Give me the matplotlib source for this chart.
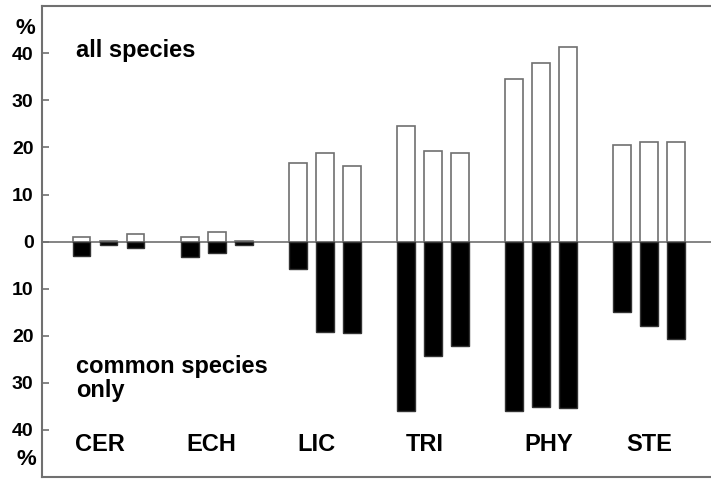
import matplotlib
matplotlib.use("Agg")
import matplotlib.pyplot as plt
import numpy as np

# data (% values, three bars per group)
groups = ["CER", "ECH", "LIC", "TRI", "PHY", "STE"]
all_species = [[1.0, 0.2, 1.7],
               [1.0, 2.1, 0.2],
               [16.7, 18.8, 16.1],
               [24.5, 19.3, 18.9],
               [34.6, 38.0, 41.3],
               [20.6, 21.1, 21.1]]
common_only = [[3.1, 0.8, 1.3],
               [3.2, 2.5, 0.8],
               [5.9, 19.2, 19.5],
               [35.9, 24.3, 22.1],
               [35.9, 35.1, 35.3],
               [14.9, 17.9, 20.7]]
yticks = [-40, -30, -20, -10, 0, 10, 20, 30, 40]

font = {'family': 'Liberation Sans', 'weight': 'bold'}
grey = '#707070'

fig = plt.figure(figsize=(7.11, 4.79), dpi=100)
ax = fig.add_axes([0.059, 0.004, 0.945, 0.983])

pos = []
for i in range(len(groups)):
    for j in range(3):
        pos.append(i * 4 + j)
pos = np.array(pos)
up = np.array(all_species).ravel()
down = np.array(common_only).ravel()

ax.axhline(0, color=grey, lw=1.2, zorder=1)
ax.bar(pos, up, width=0.65, color='white', edgecolor=grey, linewidth=1.2, zorder=2)
ax.bar(pos, -down, width=0.65, color='black', edgecolor='#333333', linewidth=1.0, zorder=3)

ax.set_xlim(-1.47, 23.4)
ax.set_ylim(-50, 50)
ax.set_xticks([])
ax.set_yticks(yticks)
ax.set_yticklabels([str(abs(t)) for t in yticks], fontdict=font, fontsize=14)
ax.tick_params(axis='y', direction='in', length=5, width=1.2, color=grey, pad=6)

for name, sp in ax.spines.items():
    sp.set_color(grey)
    sp.set_linewidth(1.5)
ax.spines['right'].set_visible(False)

ax.text(-2.1, 45.3, "%", fontdict=font, fontsize=16, ha='center', va='center', clip_on=False)
ax.text(-2.05, -46.2, "%", fontdict=font, fontsize=16, ha='center', va='center', clip_on=False)

ax.text(-0.22, 40.6, "all species", fontdict=font, fontsize=17, ha='left', va='center')
ax.text(-0.22, -29, "common species\nonly", fontdict=font, fontsize=17, ha='left', va='center',
        linespacing=1.05)

label_shift = [-0.33, -0.2, -0.3, -0.3, 0.3, 0.0]
for i, g in enumerate(groups):
    ax.text(i * 4 + 1 + label_shift[i], -43, g, fontdict=font, fontsize=17,
            ha='center', va='center')

fig.savefig("out.png", dpi=100)
